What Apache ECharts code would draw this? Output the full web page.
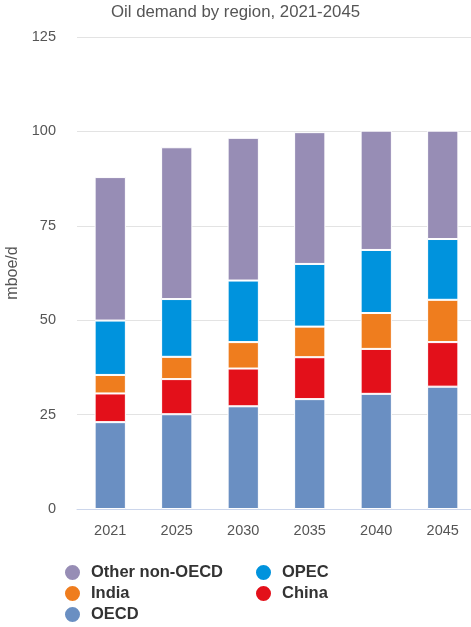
<!DOCTYPE html>
<html lang="en">
<head>
    <meta charset="UTF-8">
    <title>Oil demand by region</title>
    <script type="text/javascript" src="https://cdn.jsdelivr.net/npm/echarts@6/dist/echarts.min.js"></script>
    <style>
        html, body { margin: 0; padding: 0; background: #fff; }
    </style>
</head>
<body>
<div id="main" style="width: 471px;height:627px;"></div>
<script type="text/javascript">
var years = ['2021', '2025', '2030', '2035', '2040', '2045'];
var oecd = [23.0, 25.1, 27.2, 29.1, 30.5, 32.4];
var china = [7.6, 9.3, 10.0, 11.1, 11.9, 11.8];
var india = [4.9, 5.9, 7.0, 8.1, 9.5, 11.2];
var opec = [14.4, 15.3, 16.3, 16.6, 16.7, 16.1];
var otherNonOecd = [38.0, 40.2, 37.8, 34.9, 31.6, 28.7];

var myChart = echarts.init(document.getElementById('main'));

function stackSeries(name, data, color) {
    return {
        name: name,
        type: 'bar',
        stack: 'total',
        barWidth: '47%',
        data: data,
        itemStyle: {
            color: color,
            borderColor: '#fff',
            borderWidth: 1
        }
    };
}

var legendText = {
    fontFamily: 'Liberation Sans',
    fontSize: 16.5,
    fontWeight: 'bold',
    color: '#333'
};

var option = {
    animation: false,
    textStyle: { fontFamily: 'Liberation Sans' },
    title: {
        text: 'Oil demand by region, 2021-2045',
        left: 'center',
        top: -1,
        textStyle: {
            fontFamily: 'Liberation Sans',
            fontSize: 16.8,
            fontWeight: 'normal',
            color: '#555'
        }
    },
    legend: [
        {
            orient: 'vertical',
            left: 58,
            top: 558,
            height: 80,
            icon: 'circle',
            itemWidth: 27,
            itemHeight: 17,
            itemGap: 2,
            textStyle: legendText,
            data: ['Other non-OECD', 'India', 'OECD']
        },
        {
            orient: 'vertical',
            left: 249,
            top: 558,
            height: 80,
            icon: 'circle',
            itemWidth: 27,
            itemHeight: 17,
            itemGap: 2,
            textStyle: legendText,
            data: ['OPEC', 'China']
        }
    ],
    grid: {
        left: 77,
        right: -5,
        top: 37,
        bottom: 118,
        outerBoundsMode: 'none'
    },
    xAxis: {
        type: 'category',
        data: years,
        axisTick: { show: false },
        axisLine: { lineStyle: { color: '#ccd6eb' } },
        axisLabel: {
            color: '#555',
            fontSize: 14.5,
            margin: 14
        }
    },
    yAxis: {
        type: 'value',
        min: 0,
        max: 125,
        interval: 25,
        name: 'mboe/d',
        nameLocation: 'middle',
        nameGap: 56,
        nameTextStyle: {
            color: '#555',
            fontSize: 16
        },
        axisLabel: {
            color: '#555',
            fontSize: 14.5,
            margin: 21
        },
        splitLine: { lineStyle: { color: '#e3e3e3' } }
    },
    series: [
        stackSeries('OECD', oecd, '#6a8fc2'),
        stackSeries('China', china, '#e3101a'),
        stackSeries('India', india, '#ef7d1e'),
        stackSeries('OPEC', opec, '#0093dd'),
        stackSeries('Other non-OECD', otherNonOecd, '#978db5')
    ]
};
myChart.setOption(option);
</script>
</body>
</html>
